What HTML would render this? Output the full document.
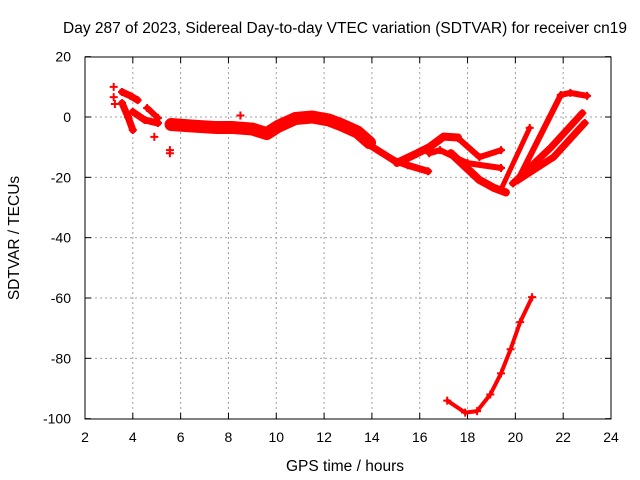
<!DOCTYPE html>
<html><head><meta charset="utf-8"><style>
html,body{margin:0;padding:0;background:#fff;}
svg{display:block;font-family:"Liberation Sans",sans-serif;}
</style></head><body>
<svg id="chart" width="640" height="480" viewBox="0 0 640 480" xmlns="http://www.w3.org/2000/svg">
<text x="345" y="33" font-size="15.5" text-anchor="middle">Day 287 of 2023, Sidereal Day-to-day VTEC variation (SDTVAR) for receiver cn19</text>
<text x="345" y="471" font-size="15.5" text-anchor="middle">GPS time / hours</text>
<text x="19" y="238" font-size="15.5" text-anchor="middle" transform="rotate(-90 19 238)">SDTVAR / TECUs</text>
<g id="grid"></g><g id="ticks"></g><g id="marks"></g>
<rect x="85" y="57" width="526" height="362" fill="none" stroke="#000" stroke-width="1"/>
</svg>
<script>
const xTicks=[2,4,6,8,10,12,14,16,18,20,22,24];
const yTicks=[20,0,-20,-40,-60,-80,-100];
const trackEarly1=[[3.55,8.3],[3.9,7],[4.2,5.6]];
const trackEarly2=[[3.55,4.6],[3.8,0],[4.0,-4.3]];
const trackEarly3=[[4.0,1.7],[4.5,-1],[5.05,-2]];
const trackEarly4=[[4.6,3],[5.05,-0.3]];
const trackMain=[[5.6,-2.5],[6.5,-3],[7.5,-3.5],[8.2,-3.5],[9,-4],[9.6,-5.5],[10.1,-3],[10.8,-0.5],[11.5,0],[12.2,-1],[12.7,-2.5],[13.4,-5],[13.9,-8.5]];
const trackA=[[13.9,-9.3],[14.9,-14.3],[15.5,-16],[16.35,-18]];
const trackB=[[15.05,-15.2],[15.9,-12],[16.4,-10],[17,-6.5],[17.6,-6.8]];
const trackC=[[17.6,-7],[18.5,-13.3],[19.4,-11]];
const trackD=[[16.4,-12],[16.85,-11],[18,-15.3],[19.4,-16.9]];
const trackE=[[17.3,-12],[18.5,-20.9],[19.1,-23.5],[19.6,-25]];
const trackR1=[[19.4,-24],[20.6,-3.6]];
const trackR2=[[20.1,-21],[21.9,7.3],[22.3,8],[23,7]];
const trackR3=[[19.9,-22],[21.5,-10],[22.8,1.3]];
const trackR4=[[20.1,-21],[21.6,-13.3],[22.9,-2]];
const trackLow=[[17.15,-94],[17.9,-98],[18.4,-97.5],[18.95,-92],[19.4,-85],[19.8,-77],[20.2,-68],[20.7,-59.7]];
const singles=[[3.2,10],[3.2,6.6],[3.25,4.3],[4.9,-6.6],[5.55,-12],[5.55,-11],[8.5,0.5]];
const tracks=[[trackEarly1,7],[trackEarly2,7],[trackEarly3,7],[trackEarly4,6],[trackMain,13],[trackA,7],[trackB,8],[trackC,6],[trackD,6],[trackE,8],[trackR1,5],[trackR2,6],[trackR3,7],[trackR4,7],[trackLow,4]];
const NS="http://www.w3.org/2000/svg";
const X=v=>85+(v-2)*526/22, Y=v=>117-v*362/120;
const grid=document.getElementById('grid'),ticks=document.getElementById('ticks'),marks=document.getElementById('marks');
function mk(tag,attrs,parent){const e=document.createElementNS(NS,tag);for(const k in attrs)e.setAttribute(k,attrs[k]);parent.appendChild(e);return e;}
xTicks.forEach(t=>{const x=X(t);
 if(t>2&&t<24){const g=mk('line',{x1:x,x2:x,y1:57,y2:419,stroke:'#a0a0a0','stroke-dasharray':'2,3'},grid);}
 mk('line',{x1:x,x2:x,y1:419,y2:413,stroke:'#000'},ticks);mk('line',{x1:x,x2:x,y1:57,y2:63,stroke:'#000'},ticks);
 const l=mk('text',{x:x,y:442,'font-size':14,'text-anchor':'middle'},ticks);l.textContent=t;
 });
yTicks.forEach(t=>{const y=Y(t);
 if(t<20&&t>-100){const g=mk('line',{x1:85,x2:611,y1:y,y2:y,stroke:'#a0a0a0','stroke-dasharray':'2,3'},grid);}
 mk('line',{x1:85,x2:91,y1:y,y2:y,stroke:'#000'},ticks);mk('line',{x1:611,x2:605,y1:y,y2:y,stroke:'#000'},ticks);
 const l=mk('text',{x:71,y:y+5,'font-size':14,'text-anchor':'end'},ticks);l.textContent=t;
 });
function plus(x,y){const p=mk('path',{d:`M${X(x)-4},${Y(y)}h8M${X(x)},${Y(y)-4}v8`,stroke:'#f00','stroke-width':2},marks);
 }
tracks.forEach(([pts,w])=>{const pl=mk('polyline',{points:pts.map(p=>X(p[0])+','+Y(p[1])).join(' '),fill:'none',stroke:'#f00','stroke-width':w,'stroke-linejoin':'round','stroke-linecap':'round'},marks);
 
 pts.forEach(p=>plus(p[0],p[1]));});
singles.forEach(p=>plus(p[0],p[1]));
</script>
</body></html>
